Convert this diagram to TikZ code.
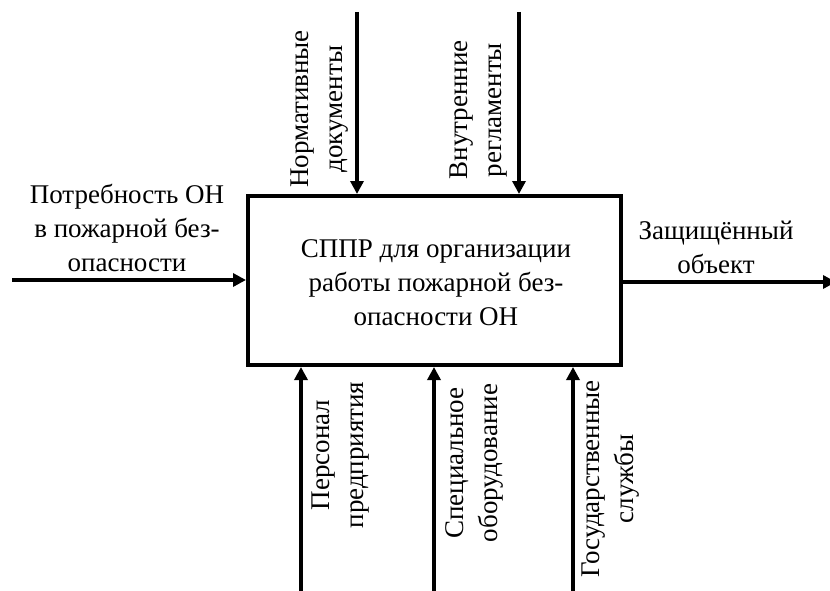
\documentclass[tikz,border=0pt]{standalone}
\usepackage{fontspec}
\setmainfont{Liberation Serif}
\usetikzlibrary{arrows.meta}
\begin{document}
\begin{tikzpicture}[x=1pt,y=1pt,
  lbl/.style={font=\fontsize{27}{34}\selectfont, align=center, inner sep=0pt},
  vlbl/.style={lbl, rotate=90},
  arr/.style={line width=3.3pt, -{Triangle[length=13pt,width=13pt]}},
  fbox/.style={draw, line width=4pt, minimum width=373pt, minimum height=169pt, inner sep=0pt}]
\useasboundingbox (0,0) rectangle (830,-591);
\node[fbox] (f) at (434.5,-280.5) {};
\node[lbl] (ft) at (436,-283) {СППР для организации\\работы пожарной без-\\опасности ОН};
% inputs
\coordinate (i1) at (12,-280);
\draw[arr] (i1) -- (i1 -| f.west);
\node[lbl] (li) at (127,-228) {Потребность ОН\\в пожарной без-\\опасности};
% outputs
\coordinate (o1) at (836,-282);
\draw[arr] (f.east |- o1) -- (o1);
\node[lbl] (lo) at (716,-247) {Защищённый\\объект};
% controls
\coordinate (c1) at (357,-12);
\coordinate (c2) at (519,-12);
\draw[arr] (c1) -- (c1 |- f.north);
\draw[arr] (c2) -- (c2 |- f.north);
\node[vlbl] (lc1) at (320,-109) {Нормативные\\документы};
\node[vlbl] (lc2) at (479,-110) {Внутренние\\регламенты};
% mechanisms
\coordinate (m1) at (301,-595);
\coordinate (m2) at (434,-595);
\coordinate (m3) at (573,-595);
\draw[arr] (m1) -- (m1 |- f.south);
\draw[arr] (m2) -- (m2 |- f.south);
\draw[arr] (m3) -- (m3 |- f.south);
\node[vlbl] (lm1) at (341,-455) {Персонал\\предприятия};
\node[vlbl] (lm2) at (474,-463) {Специальное\\оборудование};
\node[vlbl] (lm3) at (611,-479) {Государственные\\службы};
\end{tikzpicture}
\end{document}
